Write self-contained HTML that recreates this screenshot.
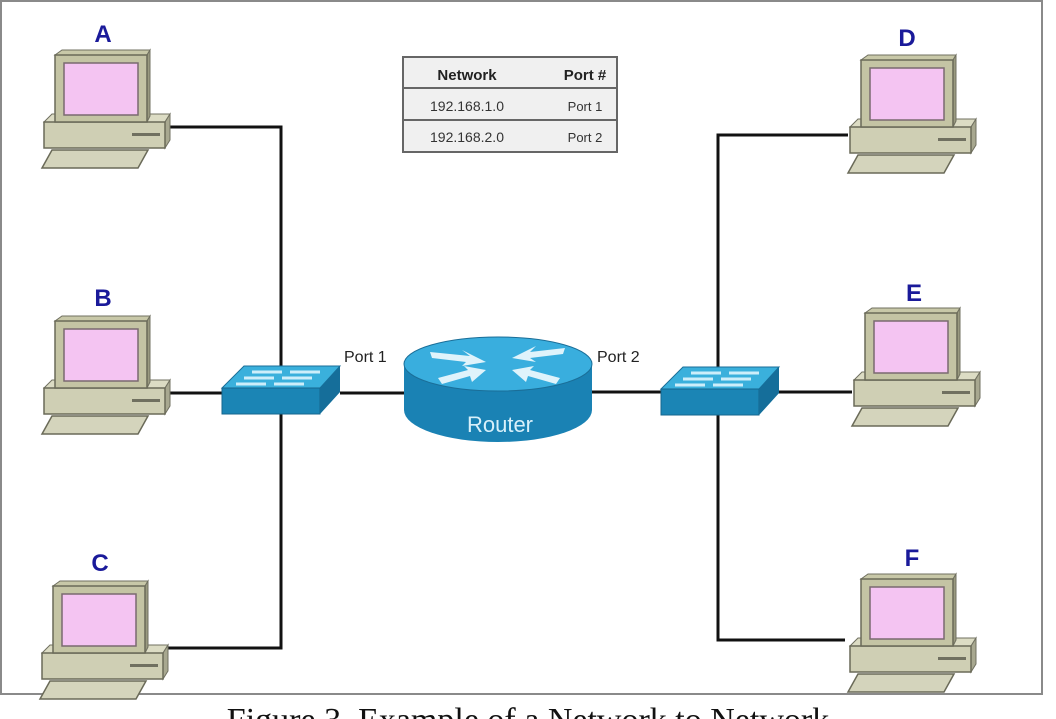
<!DOCTYPE html>
<html><head><meta charset="utf-8"><style>
html,body{margin:0;padding:0;background:#fff;width:1056px;height:719px;overflow:hidden}
svg{display:block}
</style></head><body>
<svg width="1056" height="719" viewBox="0 0 1056 719" xmlns="http://www.w3.org/2000/svg">
<defs>
<g id="pc">
  <polygon points="4,72 12,64 130,64 125,72" fill="#dcdcc4" stroke="#707060" stroke-width="1"/>
  <polygon points="125,72 130,64 130,90 125,98" fill="#a8a890" stroke="#707060" stroke-width="1"/>
  <rect x="4" y="72" width="121" height="26" fill="#cfcfb4" stroke="#6a6a58" stroke-width="1.5"/>
  <rect x="92" y="83" width="28" height="3" fill="#707060"/>
  <polygon points="15,5 22,0 110,0 107,5" fill="#c8c8a8" stroke="#707060" stroke-width="1"/>
  <polygon points="107,5 110,0 110,66 107,72" fill="#9a9a80" stroke="#707060" stroke-width="1"/>
  <rect x="15" y="5" width="92" height="67" fill="#c4c4a4" stroke="#6a6a58" stroke-width="1.5"/>
  <rect x="24" y="13" width="74" height="52" fill="#f4c4f2" stroke="#7a6a70" stroke-width="1.5"/>
  <polygon points="2,118 12,100 108,100 98,118" fill="#d4d4bc" stroke="#6a6a58" stroke-width="1.5"/>
</g>
<g id="sw">
  <polygon points="0,22 22,0 118,0 118,26 98,48 0,48" fill="#1f8fbf"/>
  <polygon points="0,22 22,0 118,0 98,22" fill="#3ab0dc" stroke="#1a6e98" stroke-width="1"/>
  <rect x="0" y="22" width="98" height="26" fill="#1b85b5" stroke="#16668e" stroke-width="1"/>
  <polygon points="98,22 118,0 118,26 98,48" fill="#156e9a"/>
  <g stroke="#cdeefa" stroke-width="3" fill="none">
    <line x1="30" y1="6" x2="60" y2="6"/><line x1="68" y1="6" x2="98" y2="6"/>
    <line x1="22" y1="12" x2="52" y2="12"/><line x1="60" y1="12" x2="90" y2="12"/>
    <line x1="14" y1="18" x2="44" y2="18"/><line x1="52" y1="18" x2="82" y2="18"/>
  </g>
</g>
</defs>

<rect x="1" y="1" width="1041" height="693" fill="none" stroke="#8a8a8a" stroke-width="2"/>

<g stroke="#111" stroke-width="3" fill="none">
  <polyline points="170,127 281,127 281,648 168,648"/>
  <line x1="170" y1="393" x2="225" y2="393"/>
  <line x1="340" y1="393" x2="406" y2="393"/>
  <line x1="592" y1="392" x2="664" y2="392"/>
  <polyline points="848,135 718,135 718,640 845,640"/>
  <line x1="776" y1="392" x2="852" y2="392"/>
</g>

<use href="#sw" x="222" y="366"/>
<use href="#sw" x="661" y="367"/>

<g>
  <path d="M404,364 L404,410 A94,32 0 0 0 592,410 L592,364 Z" fill="#1a82b4"/>
  <ellipse cx="498" cy="364" rx="94" ry="27" fill="#39aede" stroke="#1a6e98" stroke-width="1"/>
  <g fill="#dff3fb">
    <polygon points="430,352 470,356 462,350 486,362 462,366 466,362 432,358"/>
    <polygon points="565,352 530,356 536,350 512,362 536,366 530,362 563,358" transform="translate(0,-4)"/>
    <polygon points="438,378 468,370 464,366 486,370 472,382 470,376 442,384"/>
    <polygon points="560,378 530,370 534,366 512,370 526,382 528,376 556,384"/>
  </g>
  <text x="500" y="432" font-family="Liberation Sans, sans-serif" font-size="22" fill="#d8f0fa" text-anchor="middle">Router</text>
</g>
<text x="344" y="362" font-family="Liberation Sans, sans-serif" font-size="16" fill="#222">Port 1</text>
<text x="597" y="362" font-family="Liberation Sans, sans-serif" font-size="16" fill="#222">Port 2</text>

<use href="#pc" x="40" y="50"/>
<use href="#pc" x="40" y="316"/>
<use href="#pc" x="38" y="581"/>
<use href="#pc" x="846" y="55"/>
<use href="#pc" x="850" y="308"/>
<use href="#pc" x="846" y="574"/>

<g font-family="Liberation Sans, sans-serif" font-size="24" font-weight="bold" fill="#1a1a9a" text-anchor="middle">
  <text x="103" y="42">A</text>
  <text x="103" y="306">B</text>
  <text x="100" y="571">C</text>
  <text x="907" y="46">D</text>
  <text x="914" y="301">E</text>
  <text x="912" y="566">F</text>
</g>

<g font-family="Liberation Sans, sans-serif" fill="#333" text-anchor="middle">
  <rect x="403" y="57" width="214" height="95" fill="#f0f0f0" stroke="#666" stroke-width="2"/>
  <line x1="403" y1="88" x2="617" y2="88" stroke="#666" stroke-width="2"/>
  <line x1="403" y1="120" x2="617" y2="120" stroke="#666" stroke-width="2"/>
  <text x="467" y="80" font-size="15" font-weight="bold" fill="#222">Network</text>
  <text x="585" y="80" font-size="15" font-weight="bold" fill="#222">Port #</text>
  <text x="467" y="111" font-size="14">192.168.1.0</text>
  <text x="585" y="111" font-size="13">Port 1</text>
  <text x="467" y="142" font-size="14">192.168.2.0</text>
  <text x="585" y="142" font-size="13">Port 2</text>
</g>

<text x="528" y="731" font-family="Liberation Serif, serif" font-size="34" fill="#111" text-anchor="middle">Figure 3. Example of a Network to Network</text>
</svg>
</body></html>
